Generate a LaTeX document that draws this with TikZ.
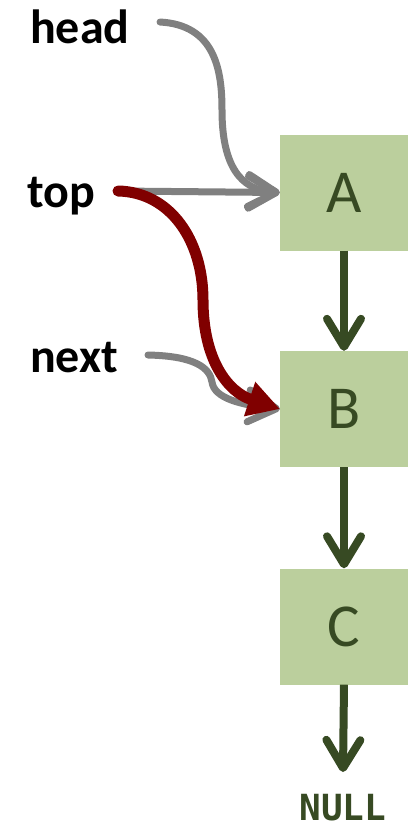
\documentclass[tikz,border=0pt]{standalone}
\usepackage{fontspec}
\setmainfont{Carlito}
\newfontfamily\nullmono{DejaVu Sans Mono}
\usetikzlibrary{arrows.meta}
\definecolor{boxfill}{HTML}{BBCF9D}
\definecolor{listgreen}{HTML}{374A23}
\definecolor{ptrgray}{HTML}{808080}
\definecolor{ptrred}{HTML}{800000}
\tikzset{
  listbox/.style={fill=boxfill, minimum width=128pt, minimum height=116pt,
    inner sep=0pt, text=listgreen, font=\fontsize{61}{64}\selectfont},
  ptrlabel/.style={anchor=base west, inner sep=0pt,
    font=\fontsize{48}{52}\selectfont\bfseries},
  linkarrow/.style={draw=listgreen, line width=8pt,
    -{Straight Barb[length=28pt,width=34pt,round]}},
  grayptr/.style={draw=ptrgray, line width=7pt, line cap=round,
    -{Straight Barb[length=28pt,width=32pt,round]}},
  redptr/.style={draw=ptrred, line width=11pt, line cap=round,
    -{Triangle[length=32pt,width=34pt]}}
}
\begin{document}
\begin{tikzpicture}[x=1pt,y=-1pt]
\useasboundingbox (0,0) rectangle (408,828);
% list nodes
\node[listbox] (A) at (344,192.5) {A};
\node[listbox] (B) at (344,409) {B};
\node[listbox] (C) at (344,626.5) {C};
\node[anchor=base, inner sep=0pt, text=listgreen,
  font=\nullmono\fontsize{36}{40}\selectfont\bfseries] (N) at (343,820) {NULL};
\coordinate (Nend) at (343,772);
% pointer labels
\node[ptrlabel] (head) at (30,43) {head};
\node[ptrlabel] (top) at (27,207) {top};
\node[ptrlabel] (next) at (30,372) {next};
% links between list nodes
\draw[linkarrow] (A.south) -- (B.north);
\draw[linkarrow] (B.south) -- (C.north);
\draw[linkarrow] (C.south) -- (Nend);
% pointers
\coordinate (hs) at (160,22);
\coordinate (ts) at (118,191);
\coordinate (ns) at (148,355);
\coordinate (At) at (A.west);
\coordinate (Bt) at (280,409);
\draw[grayptr] (hs) .. controls (215,25) and (222,70) .. (222,110)
  .. controls (222,165) and (240,190) .. (At);
\draw[grayptr] (ts) -- (At);
\draw[grayptr] (ns) .. controls (195,356) and (210,368) .. (212,382)
  .. controls (214,398) and (240,405) .. (Bt);
\draw[redptr] (ts) .. controls (170,192) and (203,240) .. (203,300)
  .. controls (203,360) and (228,392) .. (Bt);
\end{tikzpicture}
\end{document}
